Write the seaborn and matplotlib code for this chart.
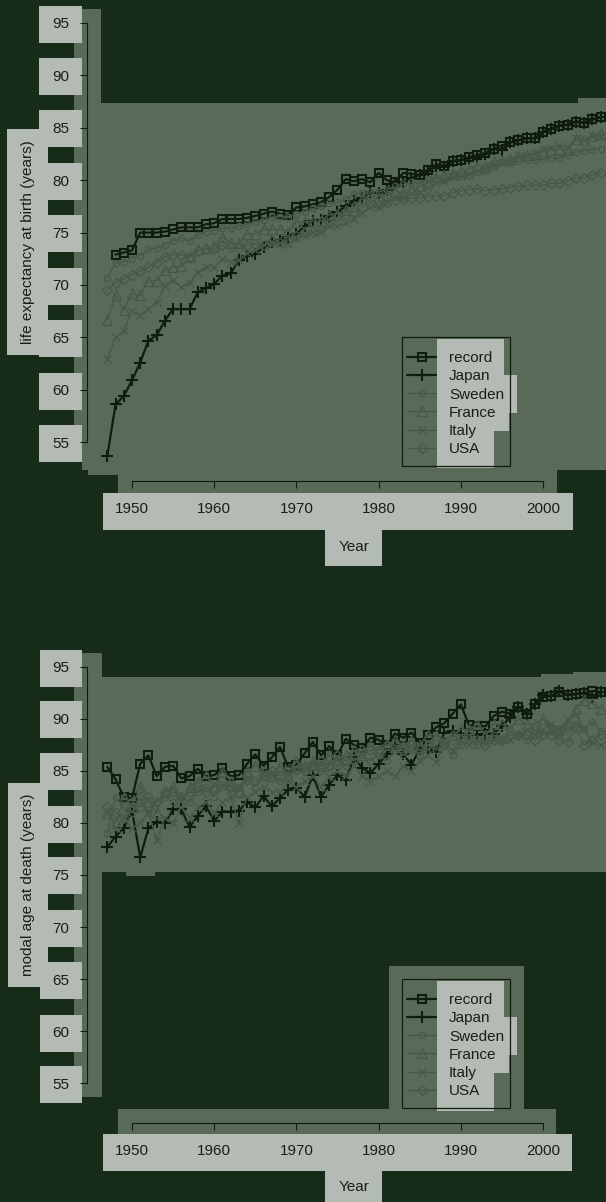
import numpy as np
import pandas as pd
import matplotlib
matplotlib.use("Agg")
import matplotlib.pyplot as plt
from matplotlib.patches import Rectangle
import seaborn as sns

# ---------------------------------------------------------------- data
years = list(range(1947, 2008))
record_years_le = list(range(1948, 2008))

# life expectancy at birth (females)
le_record = [72.9, 73.1, 73.3, 75.0, 75.0, 75.0, 75.1, 75.3, 75.5, 75.5,
             75.5, 75.8, 75.9, 76.3, 76.3, 76.3, 76.4, 76.6, 76.8, 77.0,
             76.8, 76.7, 77.4, 77.5, 77.7, 77.9, 78.4, 79.1, 80.1, 79.9,
             80.1, 79.8, 80.7, 80.0, 79.8, 80.7, 80.6, 80.5, 81.0, 81.5,
             81.4, 81.8, 81.9, 82.2, 82.4, 82.6, 83.0, 83.3, 83.6, 83.8,
             84.0, 84.0, 84.6, 84.9, 85.2, 85.3, 85.6, 85.5, 85.8, 86.0]
le_japan = [53.7, 58.6, 59.4, 60.9, 62.6, 64.7, 65.2, 66.6, 67.7, 67.7,
            67.7, 69.3, 69.7, 70.1, 70.9, 71.1, 72.4, 72.8, 73.0, 73.6,
            74.1, 74.3, 74.6, 74.9, 75.6, 76.1, 76.2, 76.6, 77.0, 77.5,
            78.0, 78.3, 78.9, 78.8, 79.1, 79.7, 79.8, 80.2, 80.5, 80.9,
            81.4, 81.3, 81.8, 81.9, 82.1, 82.2, 82.5, 83.0, 82.9, 83.6,
            83.8, 84.0, 84.0, 84.6, 84.9, 85.2, 85.3, 85.6, 85.5, 85.8, 86.0]
le_sweden = [70.7, 72.1, 72.2, 72.5, 72.8, 73.4, 73.5, 73.8, 74.2, 74.5,
             74.2, 74.8, 75.1, 75.2, 75.4, 75.4, 75.6, 75.8, 76.0, 76.2,
             76.5, 76.5, 76.5, 76.8, 77.0, 77.3, 77.5, 77.8, 77.9, 78.2,
             78.7, 78.8, 78.9, 78.9, 79.1, 79.4, 79.6, 79.8, 79.7, 80.1,
             80.2, 80.0, 80.6, 80.4, 80.5, 80.8, 81.0, 81.4, 81.7, 81.6,
             81.8, 81.9, 81.9, 82.0, 82.1, 82.1, 82.4, 82.7, 82.8, 82.9, 83.0]
le_france = [66.7, 69.0, 67.6, 69.2, 69.0, 70.4, 70.4, 71.4, 71.7, 71.8,
             72.7, 73.4, 73.5, 73.7, 74.6, 74.0, 74.0, 74.9, 74.9, 75.3,
             75.3, 75.3, 75.1, 76.0, 76.0, 76.1, 76.1, 76.7, 76.8, 77.2,
             77.5, 78.2, 78.5, 78.4, 78.6, 78.9, 78.8, 79.2, 79.4, 79.7,
             80.3, 80.5, 80.6, 80.9, 81.1, 81.4, 81.4, 81.8, 81.9, 82.0,
             82.3, 82.4, 82.5, 82.8, 82.9, 83.0, 82.9, 83.9, 83.8, 84.2, 84.4]
le_italy = [62.9, 65.0, 65.6, 67.5, 67.1, 67.7, 68.4, 69.9, 70.5, 69.8,
            70.2, 71.2, 71.7, 71.7, 72.5, 72.2, 72.4, 73.1, 73.3, 73.8,
            74.0, 74.0, 73.9, 74.5, 74.7, 75.1, 75.1, 75.6, 75.6, 75.9,
            76.3, 76.9, 77.4, 77.4, 77.9, 78.4, 78.3, 78.8, 78.9, 79.3,
            79.7, 79.9, 80.3, 80.4, 80.6, 80.9, 81.0, 81.4, 81.6, 81.9,
            82.2, 82.3, 82.6, 82.9, 83.1, 83.3, 83.1, 84.0, 83.8, 84.2, 84.2]
le_usa = [69.5, 70.2, 70.6, 71.0, 71.3, 71.7, 72.1, 72.7, 72.9, 72.9,
          72.7, 73.2, 73.4, 73.4, 73.8, 73.6, 73.5, 73.8, 73.9, 73.8,
          74.2, 74.0, 74.3, 74.7, 75.0, 75.1, 75.3, 75.9, 76.5, 76.7,
          77.0, 77.4, 77.8, 77.6, 77.9, 78.1, 78.2, 78.3, 78.3, 78.4,
          78.5, 78.5, 78.8, 79.0, 79.1, 79.2, 79.0, 79.1, 79.2, 79.3,
          79.4, 79.5, 79.5, 79.5, 79.7, 79.7, 79.9, 80.2, 80.2, 80.5, 80.7]

# modal age at death (females)
mad_record = [85.4, 84.2, 82.5, 82.4, 85.7, 86.5, 84.5, 85.4, 85.5, 84.3,
              84.5, 85.2, 84.5, 84.6, 85.3, 84.5, 84.6, 85.7, 86.6, 85.5,
              86.3, 87.3, 85.4, 85.6, 86.7, 87.8, 86.5, 87.4, 86.5, 88.1,
              87.5, 87.2, 88.2, 88.0, 87.5, 88.6, 88.2, 88.7, 87.7, 88.5,
              89.2, 89.6, 90.5, 91.4, 89.4, 89.3, 89.3, 90.3, 90.7, 90.5,
              91.2, 90.5, 91.4, 92.1, 92.2, 92.6, 92.3, 92.4, 92.5, 92.7, 92.6]
mad_japan = [77.7, 78.7, 79.5, 81.2, 76.7, 79.5, 80.1, 80.0, 81.3, 81.3,
             79.6, 80.7, 81.6, 80.2, 81.1, 81.1, 81.2, 82.0, 81.5, 82.6,
             81.6, 82.4, 83.2, 83.4, 82.5, 84.6, 82.5, 83.7, 84.6, 84.1,
             86.3, 85.3, 84.8, 85.7, 86.6, 87.5, 86.6, 85.6, 87.1, 87.2,
             86.8, 88.7, 88.8, 88.6, 88.5, 88.5, 88.6, 88.6, 89.3, 90.2,
             91.2, 90.5, 91.4, 92.3, 92.2, 92.7, 92.3, 92.4, 92.5, 92.0, 92.6]
mad_sweden = [79.0, 82.5, 81.5, 81.0, 82.5, 81.0, 82.0, 82.5, 82.0, 82.5,
              82.0, 83.0, 83.5, 82.5, 83.5, 83.0, 83.5, 84.0, 83.5, 84.5,
              84.5, 84.0, 84.5, 85.0, 85.0, 85.5, 85.0, 85.5, 86.0, 85.5,
              86.0, 86.5, 86.0, 86.5, 86.0, 87.0, 86.5, 87.0, 86.5, 87.5,
              87.0, 87.5, 86.5, 87.5, 88.0, 87.5, 88.0, 88.5, 88.0, 88.5,
              88.5, 88.0, 89.0, 88.5, 89.0, 88.5, 89.0, 89.5, 89.0, 89.7, 88.8]
mad_france = [81.0, 80.0, 82.5, 81.5, 83.5, 82.0, 81.0, 83.0, 83.5, 82.0,
              83.5, 84.0, 84.5, 83.5, 85.0, 84.0, 83.0, 85.0, 85.5, 85.0,
              84.5, 85.5, 84.5, 86.0, 85.5, 86.0, 85.5, 86.5, 86.0, 86.5,
              87.0, 86.5, 87.5, 87.0, 87.5, 88.0, 87.5, 88.0, 87.5, 88.5,
              88.5, 88.0, 88.5, 89.0, 89.0, 89.5, 88.5, 89.5, 89.5, 89.0,
              90.0, 89.5, 89.5, 90.0, 89.1, 88.9, 89.5, 91.0, 91.8, 91.5, 91.0]
mad_italy = [81.0, 79.5, 80.5, 79.5, 80.0, 81.0, 78.4, 80.5, 80.0, 81.5,
             80.5, 81.5, 82.0, 81.0, 82.0, 82.5, 80.0, 82.5, 83.0, 83.5,
             83.0, 83.0, 84.0, 83.5, 84.0, 84.5, 83.5, 84.5, 85.0, 84.5,
             85.5, 84.5, 84.0, 84.5, 85.0, 84.5, 85.5, 85.0, 86.0, 86.5,
             85.9, 87.5, 87.0, 88.0, 87.5, 88.0, 87.7, 88.0, 88.0, 88.0,
             88.5, 89.0, 88.5, 89.0, 89.5, 89.0, 90.0, 90.5, 89.0, 87.7, 87.5]
mad_usa = [81.5, 81.0, 80.5, 82.0, 81.5, 82.5, 82.0, 83.0, 83.0, 82.5,
           83.0, 83.5, 83.0, 83.5, 84.0, 83.5, 83.0, 84.5, 84.0, 84.5,
           85.0, 84.5, 85.0, 85.5, 85.0, 85.5, 86.0, 85.5, 86.5, 86.0,
           86.5, 87.0, 87.0, 87.0, 87.5, 87.5, 87.0, 87.5, 87.0, 87.5,
           88.0, 87.5, 88.0, 88.0, 88.5, 88.0, 87.5, 88.0, 88.0, 88.5,
           88.5, 88.5, 88.0, 88.5, 88.5, 88.0, 87.8, 89.1, 87.5, 88.0, 88.5]

series_names = ["record", "Japan", "Sweden", "France", "Italy", "USA"]
y_ticks = [55, 60, 65, 70, 75, 80, 85, 90, 95]
x_ticks = [1950, 1960, 1970, 1980, 1990, 2000]

# ---------------------------------------------------------------- style
W, H, DPI = 606, 1202, 100
DARK = "#162c18"
PANEL = "#5a6a58"
LIGHT = "#b4bab4"
TXT = "#1b1d1b"
INK = "#0f1d10"
GREY = "#485846"

sns.set_theme(style="white")
plt.rcParams["font.family"] = ["Liberation Sans", "DejaVu Sans"]
plt.rcParams["text.color"] = TXT

series_style = {
    "record": dict(color=INK, lw=1.6, marker="s", ms=5.5, mfc="none", mec=INK, mew=1.5),
    "Japan": dict(color=INK, lw=1.6, marker="+", ms=9, mfc="none", mec=INK, mew=1.5),
    "Sweden": dict(color=GREY, lw=0.9, marker="o", ms=4.5, mfc="none", mec=GREY, mew=0.9),
    "France": dict(color=GREY, lw=0.9, marker="^", ms=6.5, mfc="none", mec=GREY, mew=0.9),
    "Italy": dict(color=GREY, lw=0.9, marker="x", ms=6, mfc="none", mec=GREY, mew=0.9),
    "USA": dict(color=GREY, lw=0.9, marker="D", ms=5.5, mfc="none", mec=GREY, mew=0.9),
}

fig = plt.figure(figsize=(W / DPI, H / DPI), dpi=DPI, facecolor=DARK)

# backdrop canvas in pixel units (origin top-left)
bg = fig.add_axes([0, 0, 1, 1], zorder=-10)
bg.set_xlim(0, W)
bg.set_ylim(H, 0)
bg.axis("off")


def block(x0, y0, x1, y1, color):
    bg.add_patch(Rectangle((x0, y0), x1 - x0, y1 - y0, fc=color, ec="none", lw=0))


def frame(x0, y0, x1, y1):
    bg.add_patch(Rectangle((x0, y0), x1 - x0, y1 - y0, fc="none", ec=INK, lw=0.9))


# --- top panel backdrop
block(74, 9, 101, 456, PANEL)
block(101, 103, 606, 470, PANEL)
block(578, 98, 606, 103, PANEL)
block(82, 456, 118, 470, PANEL)
block(88, 470, 118, 475, PANEL)
block(118, 470, 557, 493, PANEL)
top_tick_px = [442, 390, 337, 285, 232, 180, 127, 75, 23]
for c in top_tick_px:
    block(39, c - 17, 82, c + 20, LIGHT)
block(7, 129, 48, 355, LIGHT)
block(103, 493, 573, 530, LIGHT)
block(325, 530, 382, 566, LIGHT)
block(437, 339, 504, 375, LIGHT)
block(437, 375, 517, 413, LIGHT)
block(437, 413, 509, 431, LIGHT)
block(437, 431, 494, 468, LIGHT)
frame(402, 337, 510, 466)

# --- bottom panel backdrop
block(74, 653, 102, 1097, PANEL)
block(93, 677, 606, 872, PANEL)
block(541, 674, 606, 677, PANEL)
block(573, 672, 606, 674, PANEL)
block(126, 872, 155, 876, PANEL)
block(389, 966, 524, 1109, PANEL)
block(118, 1109, 556, 1134, PANEL)
bot_tick_px = [1083, 1032, 979, 927, 874, 823, 770, 718, 667]
for c in bot_tick_px:
    block(40, c - 17, 82, c + 20, LIGHT)
block(8, 783, 48, 987, LIGHT)
block(103, 1134, 572, 1171, LIGHT)
block(325, 1171, 382, 1202, LIGHT)
block(437, 981, 504, 1017, LIGHT)
block(437, 1017, 517, 1055, LIGHT)
block(437, 1055, 509, 1073, LIGHT)
block(437, 1073, 494, 1111, LIGHT)
frame(402, 979, 510, 1108)


def px_axes(x0, ytop, x1, ybot):
    return fig.add_axes([x0 / W, 1 - ybot / H, (x1 - x0) / W, (ybot - ytop) / H])


def draw_panel(ax, data, ylim, ylabel, ylab_y, xlab_y, leg_top):
    for name in series_names:
        xs, ys = data[name]
        df = pd.DataFrame({"year": xs, "value": ys})
        sns.lineplot(data=df, x="year", y="value", ax=ax, label=name,
                     clip_on=False, **series_style[name])
    ax.set_xlim(1944.526, 2007.664)
    ax.set_ylim(*ylim)
    ax.set_facecolor("none")
    ax.grid(False)
    for side in ("top", "right"):
        ax.spines[side].set_visible(False)
    for side in ("left", "bottom"):
        ax.spines[side].set_color(INK)
        ax.spines[side].set_linewidth(0.8)
    ax.spines["left"].set_bounds(55, 95)
    ax.spines["bottom"].set_bounds(1950, 2000)
    ax.set_yticks(y_ticks)
    ax.set_xticks(x_ticks)
    ax.tick_params(axis="both", direction="out", length=5, width=0.8,
                   color=INK, labelsize=11, labelcolor=TXT,
                   left=True, bottom=True)
    ax.tick_params(axis="y", pad=8)
    ax.tick_params(axis="x", pad=10)
    ax.set_ylabel(ylabel, fontsize=11, color=TXT)
    ax.yaxis.set_label_coords(35 / W, 1 - ylab_y / H, transform=fig.transFigure)
    ax.set_xlabel("Year", fontsize=11, color=TXT)
    ax.xaxis.set_label_coords(354 / W, 1 - xlab_y / H, transform=fig.transFigure)
    handles, labels = ax.get_legend_handles_labels()
    ax.legend(handles, labels, loc="upper left",
              bbox_to_anchor=(407 / W, 1 - leg_top / H),
              bbox_transform=fig.transFigure, frameon=False, fontsize=11,
              handlelength=1.9, handletextpad=0.85, labelspacing=0.28,
              borderpad=0, borderaxespad=0, labelcolor=TXT)


le_data = {
    "record": (record_years_le, le_record),
    "Japan": (years, le_japan),
    "Sweden": (years, le_sweden),
    "France": (years, le_france),
    "Italy": (years, le_italy),
    "USA": (years, le_usa),
}
mad_data = {
    "record": (years, mad_record),
    "Japan": (years, mad_japan),
    "Sweden": (years, mad_sweden),
    "France": (years, mad_france),
    "Italy": (years, mad_italy),
    "USA": (years, mad_usa),
}

ax1 = px_axes(87, 10, 606, 481)
draw_panel(ax1, le_data, (51.298, 96.240), "life expectancy at birth (years)",
           242, 540, 351)

ax2 = px_axes(87, 640, 606, 1123)
draw_panel(ax2, mad_data, (51.154, 97.596), "modal age at death (years)",
           885, 1180, 993)

fig.savefig("out.png", dpi=DPI, facecolor=DARK)
